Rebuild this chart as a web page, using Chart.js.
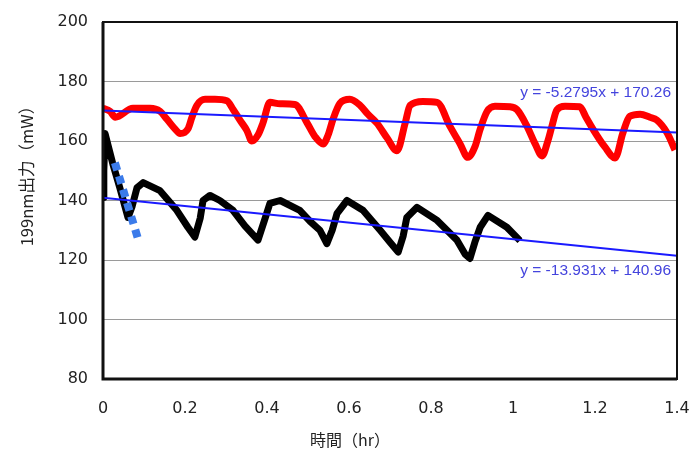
<!DOCTYPE html>
<html>
<head>
<meta charset="utf-8">
<script src="https://cdn.jsdelivr.net/npm/chart.js@4/dist/chart.umd.min.js"></script>
<style>
  html, body { margin: 0; padding: 0; background: #fff; }
  #wrap { width: 692px; height: 455px; }
</style>
</head>
<body>
<div id="wrap"><canvas id="myChart" width="692" height="455"></canvas></div>
<script>
// red run (hr, mW)
const redX = [0, 0.017, 0.03, 0.073, 0.115, 0.139, 0.156, 0.176, 0.188, 0.207, 0.217, 0.229, 0.249, 0.273, 0.302,
  0.317, 0.334, 0.351, 0.363, 0.378, 0.39, 0.407, 0.432, 0.468, 0.498, 0.517, 0.537, 0.549, 0.561, 0.578,
  0.602, 0.627, 0.646, 0.668, 0.693, 0.717, 0.737, 0.749, 0.78, 0.815, 0.846, 0.871, 0.89, 0.907, 0.92,
  0.937, 0.956, 0.993, 1.01, 1.034, 1.054, 1.071, 1.085, 1.095, 1.107, 1.127, 1.163, 1.178, 1.195, 1.224,
  1.249, 1.268, 1.285, 1.31, 1.334, 1.351, 1.376, 1.395];
const redY = [171, 170, 168, 171, 171, 170, 167.3, 164, 162.5, 164, 168, 172, 174, 174, 173.5,
  170.7, 167, 163.5, 160, 162, 166, 173, 172.5, 172.3, 166, 161.5, 159, 162, 167.3, 172.7,
  174, 172, 169, 166, 161, 156.7, 166, 172, 173.3, 173, 165, 159, 154.5, 158, 164,
  170, 171.7, 171.5, 170.5, 165, 159, 155, 160, 165, 170.5, 171.7, 171.5, 168, 164, 158,
  154.3, 162.7, 168.3, 169, 168, 167, 162.7, 157];

// black run
const blackX = [0, 0.002, 0.005, 0.024, 0.041, 0.061, 0.071, 0.083, 0.098, 0.139, 0.18, 0.207, 0.224, 0.237,
  0.244, 0.261, 0.285, 0.317, 0.346, 0.378, 0.393, 0.407, 0.432, 0.48, 0.505, 0.529, 0.546, 0.559, 0.571,
  0.595, 0.634, 0.676, 0.7, 0.72, 0.732, 0.741, 0.766, 0.815, 0.863, 0.883, 0.895, 0.907, 0.92, 0.939,
  0.985, 1.017];
const blackY = [141, 150, 162.5, 152.3, 144.3, 134.3, 138, 144.3, 146, 143.3, 136.7, 131, 127.7, 134,
  140, 141.7, 140, 136.7, 131.5, 126.7, 133, 139, 140, 136.7, 133, 130, 125.5, 130, 135.7,
  140, 136.7, 130, 126, 122.7, 128, 134.3, 137.7, 133.3, 126.7, 122, 120.5, 126, 131, 135,
  131, 126.5];

// linear fits (end points) and the blue dotted guide
const fitX = [0, 1.4];
const redFitY = [170.26, 162.87];
const blackFitY = [140.96, 121.46];
const guideX = [0.029, 0.085];
const guideY = [152.7, 127.3];

const redFitLabel = "y = -5.2795x + 170.26";
const blackFitLabel = "y = -13.931x + 140.96";
const xTitle = "時間（hr）";
const yTitle = "199nm出力（mW）";

const xTicks = [0, 0.2, 0.4, 0.6, 0.8, 1, 1.2, 1.4];
const yTicks = [80, 100, 120, 140, 160, 180, 200];

const pts = (xs, ys) => xs.map((x, i) => ({ x: x, y: ys[i] }));

const frame = {
  id: "frame",
  afterDatasetsDraw(chart) {
    const a = chart.chartArea;
    const c = chart.ctx;
    c.save();
    c.strokeStyle = "#111";
    c.lineWidth = 2;
    c.strokeRect(a.left, a.top, a.right - a.left, a.bottom - a.top);
    c.lineWidth = 3;
    c.beginPath();
    c.moveTo(a.left, a.top);
    c.lineTo(a.left, a.bottom);
    c.lineTo(a.right, a.bottom);
    c.stroke();
    // fit equations
    c.fillStyle = "#4444dd";
    c.font = "15.5px 'Liberation Sans', Arial, sans-serif";
    c.textAlign = "right";
    c.textBaseline = "middle";
    c.fillText(redFitLabel, a.right - 6, 93);
    c.fillText(blackFitLabel, a.right - 6, 271);
    // axis titles
    c.fillStyle = "#222";
    c.textAlign = "center";
    c.font = "16px 'Noto Sans CJK JP', sans-serif";
    c.fillText(xTitle, 350, 440);
    c.font = "16.5px 'Noto Sans CJK JP', sans-serif";
    c.translate(27, 172);
    c.rotate(-Math.PI / 2);
    c.fillText(yTitle, 0, 0);
    c.restore();
  }
};

const ctx = document.querySelector("#myChart");
new Chart(ctx, {
  type: "scatter",
  data: {
    datasets: [
      {
        data: pts(guideX, guideY),
        showLine: true,
        borderColor: "#3b7bea",
        borderWidth: 8,
        borderDash: [8, 6],
        pointRadius: 0,
      },
      {
        data: pts(fitX, redFitY),
        showLine: true,
        borderColor: "#1a1aff",
        borderWidth: 2,
        pointRadius: 0,
      },
      {
        data: pts(fitX, blackFitY),
        showLine: true,
        borderColor: "#1a1aff",
        borderWidth: 2,
        pointRadius: 0,
      },
      {
        data: pts(redX, redY),
        showLine: true,
        borderColor: "#ff0000",
        borderWidth: 7,
        borderJoinStyle: "round",
        cubicInterpolationMode: "monotone",
        pointRadius: 0,
      },
      {
        data: pts(blackX, blackY),
        showLine: true,
        borderColor: "#000",
        borderWidth: 7,
        borderJoinStyle: "round",
        pointRadius: 0,
      },
    ],
  },
  options: {
    responsive: false,
    animation: false,
    layout: { padding: { top: 22, right: 15, left: 0, bottom: 0 } },
    plugins: { legend: { display: false }, tooltip: { enabled: false } },
    scales: {
      x: {
        type: "linear",
        min: 0,
        max: 1.4,
        afterBuildTicks: (s) => { s.ticks = xTicks.map((v) => ({ value: v })); },
        afterFit: (s) => { s.height = 76; s.paddingLeft = 0; s.paddingRight = 0; },
        grid: { display: false, drawTicks: false },
        border: { display: false },
        ticks: {
          padding: 20,
          color: "#222",
          font: { family: "'DejaVu Sans', sans-serif", size: 16 },
          callback: (v) => String(v),
        },
      },
      y: {
        min: 80,
        max: 200,
        afterBuildTicks: (s) => { s.ticks = yTicks.map((v) => ({ value: v })); },
        afterFit: (s) => { s.width = 103; s.paddingTop = 0; s.paddingBottom = 0; },
        grid: { color: "#9a9a9a", lineWidth: 1, drawTicks: false },
        border: { display: false },
        ticks: {
          padding: 15,
          color: "#222",
          font: { family: "'DejaVu Sans', sans-serif", size: 16 },
        },
      },
    },
  },
  plugins: [frame],
});
</script>
</body>
</html>
